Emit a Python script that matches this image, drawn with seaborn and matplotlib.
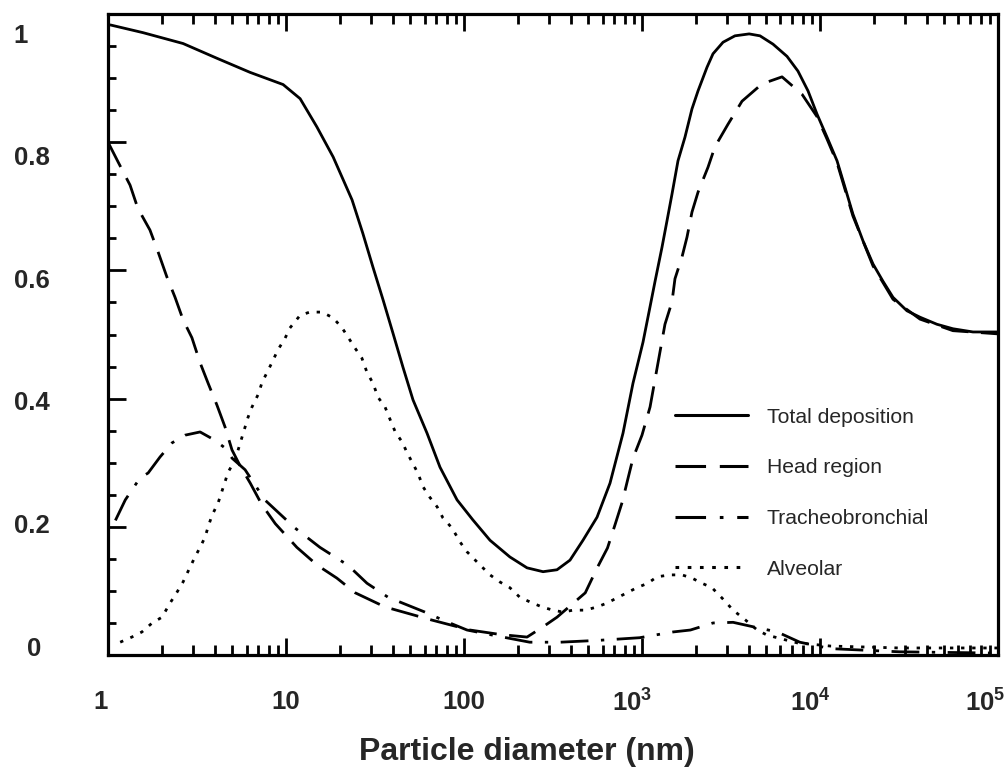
import numpy as np
import pandas as pd
import seaborn as sns
import matplotlib
matplotlib.use("Agg")
import matplotlib.pyplot as plt
from matplotlib.ticker import AutoMinorLocator, FixedLocator
from matplotlib.transforms import ScaledTranslation

# particle diameter (nm) and deposited fraction
total_d = [1.03, 1.57, 2.64, 4.09, 6.28, 9.63, 12.0, 14.9, 18.4, 23.5, 27.0, 30.8, 35.1,
           39.9, 45.4, 51.7, 62.0, 73.3, 91.4, 112, 140, 181, 226, 278, 333, 394, 466,
           559, 661, 782, 890, 1013, 1109, 1184, 1295, 1381, 1474, 1593, 1744, 1909, 2064,
           2319, 2506, 2853, 3329, 4000, 4603, 5447, 6527, 7520, 8569, 9619, 10950, 12470,
           13810, 15310, 17450, 19860, 22600, 25720, 30820, 36480, 45400, 55850, 72400, 100000]
total_v = [0.983, 0.971, 0.954, 0.931, 0.909, 0.890, 0.868, 0.824, 0.777, 0.710, 0.658, 0.605,
           0.554, 0.502, 0.449, 0.398, 0.346, 0.293, 0.242, 0.211, 0.179, 0.153, 0.136, 0.130,
           0.133, 0.148, 0.179, 0.215, 0.268, 0.346, 0.424, 0.488, 0.543, 0.583, 0.636, 0.677,
           0.719, 0.771, 0.808, 0.852, 0.880, 0.917, 0.938, 0.956, 0.966, 0.969, 0.966, 0.953,
           0.934, 0.911, 0.880, 0.844, 0.808, 0.771, 0.730, 0.688, 0.646, 0.610, 0.583, 0.558,
           0.537, 0.527, 0.516, 0.509, 0.504, 0.504]

head_d = [1.0, 1.14, 1.33, 1.47, 1.72, 1.91, 2.14, 2.38, 2.64, 2.96, 3.29, 3.65, 4.09, 4.54,
          4.97, 5.5, 6.3, 7.3, 8.7, 11.5, 15.0, 19.3, 24.5, 36, 65, 108, 160, 226, 278, 333,
          480, 560, 640, 705, 775, 830, 890, 1000, 1110, 1346, 1474, 1532, 1678, 1790, 1909,
          2064, 2349, 2570, 3041, 3647, 4723, 6120, 7920, 9619, 10950, 12470, 15310, 19860,
          25720, 36480, 55850, 100000]
head_v = [0.80, 0.769, 0.733, 0.697, 0.663, 0.629, 0.590, 0.558, 0.523, 0.495, 0.456, 0.424,
          0.390, 0.356, 0.320, 0.296, 0.268, 0.235, 0.205, 0.168, 0.140, 0.120, 0.097, 0.075,
          0.055, 0.039, 0.032, 0.028, 0.044, 0.059, 0.097, 0.136, 0.167, 0.203, 0.239, 0.273,
          0.307, 0.343, 0.387, 0.516, 0.551, 0.587, 0.621, 0.652, 0.691, 0.722, 0.761, 0.793,
          0.828, 0.864, 0.891, 0.902, 0.875, 0.840, 0.805, 0.768, 0.685, 0.607, 0.555, 0.524,
          0.506, 0.501]

tb_d = [1.1, 1.25, 1.51, 1.68, 1.96, 2.29, 2.71, 3.29, 3.99, 4.54, 4.98, 5.89, 7.6, 11.25,
        15.5, 22.3, 28.5, 37.5, 60.3, 78.3, 104, 145, 234, 347, 580, 970, 1496, 1871, 2506,
        3250, 4220, 5750, 7700, 11430, 28000, 100000]
tb_v = [0.21, 0.242, 0.276, 0.284, 0.309, 0.331, 0.343, 0.348, 0.335, 0.323, 0.307, 0.289,
        0.242, 0.198, 0.168, 0.140, 0.112, 0.090, 0.067, 0.053, 0.039, 0.031, 0.020, 0.020,
        0.023, 0.027, 0.036, 0.039, 0.050, 0.051, 0.044, 0.036, 0.020, 0.010, 0.005, 0.003]

alv_d = [1.17, 1.36, 1.55, 1.77, 2.01, 2.23, 2.44, 2.64, 2.81, 3.08, 3.29, 3.51, 3.65, 3.84,
         4.15, 4.54, 4.72, 5.17, 5.66, 6.12, 6.44, 6.96, 7.35, 7.83, 8.36, 9.0, 9.87, 10.5,
         12.0, 13.6, 15.9, 18.4, 20.7, 22.3, 24.4, 26.7, 28.5, 30.8, 32.9, 36.0, 38.5, 41.1,
         45.0, 48.0, 51.3, 55.0, 59.0, 64.3, 70.7, 76.1, 85.7, 95.2, 104, 118.5, 140, 159,
         181, 206, 234, 274, 316, 360, 410, 480, 559, 635, 722, 822, 935, 1079, 1213, 1434,
         1678, 1909, 2172, 2473, 2814, 3250, 3800, 4440, 5050, 5750, 6527, 7430, 11430,
         28000, 100000]
alv_v = [0.020, 0.028, 0.036, 0.050, 0.059, 0.081, 0.098, 0.114, 0.130, 0.153, 0.168, 0.184,
         0.200, 0.218, 0.237, 0.270, 0.285, 0.304, 0.340, 0.371, 0.387, 0.406, 0.426, 0.441,
         0.457, 0.476, 0.494, 0.510, 0.530, 0.535, 0.535, 0.526, 0.510, 0.496, 0.479, 0.463,
         0.441, 0.424, 0.402, 0.387, 0.367, 0.348, 0.332, 0.315, 0.300, 0.284, 0.262, 0.246,
         0.231, 0.214, 0.198, 0.176, 0.161, 0.145, 0.125, 0.114, 0.105, 0.090, 0.083, 0.075,
         0.070, 0.067, 0.070, 0.070, 0.075, 0.081, 0.089, 0.097, 0.105, 0.112, 0.122, 0.125,
         0.125, 0.120, 0.112, 0.105, 0.089, 0.070, 0.055, 0.039, 0.031, 0.027, 0.023, 0.019,
         0.014, 0.011, 0.011]

series_names = ["Total deposition", "Head region", "Tracheobronchial", "Alveolar"]
x_ticks = [1, 10, 100, 1000, 10000, 100000]
x_ticklabels = ["1", "10", "100", r"$\mathbf{10^3}$", r"$\mathbf{10^4}$", r"$\mathbf{10^5}$"]
y_ticks = [0, 0.2, 0.4, 0.6, 0.8, 1]
y_ticklabels = ["0", "0.2", "0.4", "0.6", "0.8", "1"]

sns.set_style("ticks")
plt.rcParams["font.family"] = ["Liberation Sans", "DejaVu Sans"]
plt.rcParams["mathtext.fontset"] = "custom"
plt.rcParams["mathtext.rm"] = "Liberation Sans:bold"
plt.rcParams["mathtext.bf"] = "Liberation Sans:bold"

fig = plt.figure(figsize=(10.05, 7.67), dpi=100)
ax = fig.add_axes([0.1075, 0.146, 0.8855, 0.8357])

lw = 2.0
styles = [
    (total_d, total_v, "-"),
    (head_d, head_v, (0, (10, 4.5))),
    (tb_d, tb_v, (0, (10, 4.5, 1.2, 4.5))),
    (alv_d, alv_v, (0, (1.2, 2.8))),
]
for (d, v, ls), name in zip(styles, series_names):
    df = pd.DataFrame({"d": d, "v": v})
    sns.lineplot(data=df, x="d", y="v", ax=ax, color="black", linewidth=lw,
                 linestyle=ls, estimator=None, label=name)

ax.set_xscale("log")
ax.set_xlim(1, 100000)
ax.set_ylim(0, 1)

for side in ax.spines.values():
    side.set_linewidth(2.3)
    side.set_color("black")

ax.xaxis.set_major_locator(FixedLocator(x_ticks))
ax.set_xticklabels(x_ticklabels, fontsize=18.5, fontweight="bold")
ax.set_yticks(y_ticks)
ax.set_yticklabels([])
ax.yaxis.set_minor_locator(AutoMinorLocator(4))
ax.tick_params(which="both", direction="in", top=True, right=True, width=2, color="black")
ax.tick_params(axis="x", which="major", length=12, pad=25)
ax.tick_params(axis="x", which="minor", length=7)
ax.tick_params(axis="y", which="major", length=13)
ax.tick_params(axis="y", which="minor", length=6)

# the original labels sit a few pixels left of their ticks
for i, t in enumerate(ax.get_xticklabels()):
    dx = -7 if i == 0 else (-10 if i >= 3 else 0)
    t.set_transform(t.get_transform() + ScaledTranslation(dx / 100, 0, fig.dpi_scale_trans))
ax.get_xticklabels()[-1].set_horizontalalignment("right")
ax.get_xticklabels()[-1].set_transform(ax.get_xticklabels()[-1].get_transform()
                                       + ScaledTranslation(17 / 100, 0, fig.dpi_scale_trans))

ax.set_xlabel("Particle diameter (nm)", fontsize=23, fontweight="bold")
ax.xaxis.set_label_coords(0.471, -0.128)
ax.set_ylabel("")

# y labels sit a little off the ticks in the original
lab = ax.twinx()
lab.set_ylim(-0.0147, 1.031)
lab.set_yticks(y_ticks)
lab.set_yticklabels(y_ticklabels, fontsize=18.5, fontweight="bold", ha="left")
lab.yaxis.tick_left()
lab.tick_params(axis="y", length=0, pad=68)
for side in lab.spines.values():
    side.set_visible(False)
zero = lab.get_yticklabels()[0]
zero.set_transform(zero.get_transform() + ScaledTranslation(13 / 100, 0, fig.dpi_scale_trans))

leg = ax.legend(loc="upper left", bbox_to_anchor=(0.637, 0.386), frameon=False,
                fontsize=15.2, handlelength=3.45, handletextpad=0.9, labelspacing=1.5,
                borderpad=0, borderaxespad=0)
for h in leg.get_lines():
    h.set_linewidth(2.2)

fig.savefig("out.png", dpi=100)
